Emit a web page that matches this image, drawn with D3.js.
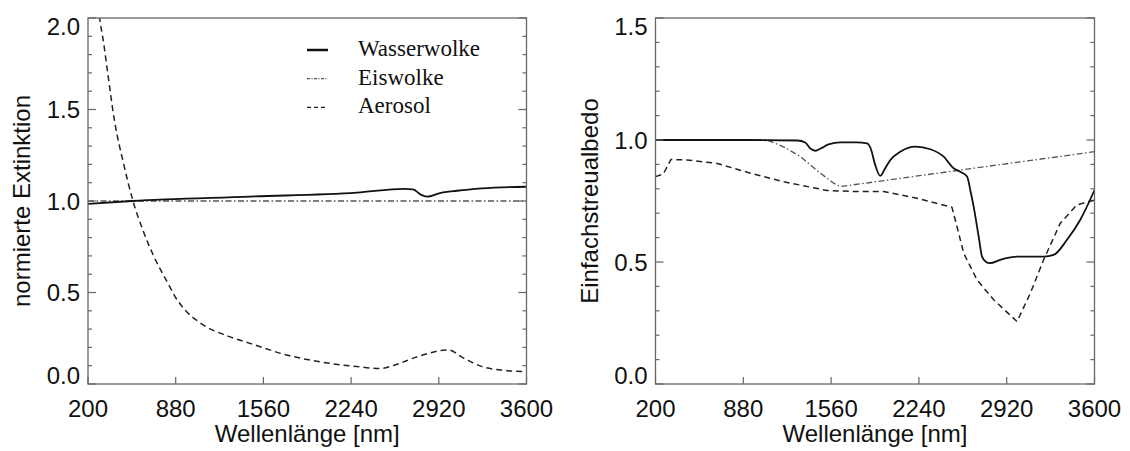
<!DOCTYPE html>
<meta charset="utf-8">
<style>
  body { margin: 0; background: #fff; }
  svg text { font-family: "Liberation Sans", Arial, sans-serif; fill: #111; }
  .legend text { font-family: "Liberation Serif", "Times New Roman", serif; }
</style>
<body>
  <div id="box1"></div>
</body>
<script src="https://cdn.jsdelivr.net/npm/d3@7"></script>
<script>

var width = 1130, height = 451;

// x ticks shared by both panels
var xTicks = [200, 880, 1560, 2240, 2920, 3600];
var leftYTicks = [0.0, 0.5, 1.0, 1.5, 2.0];
var rightYTicks = [0.0, 0.5, 1.0, 1.5];

var seriesNames = ["Wasserwolke", "Eiswolke", "Aerosol"];

// normierte Extinktion (left)
var extWasser = [[200, 0.984], [543, 1.0], [1456, 1.024], [2286, 1.046], [2650, 1.066],
                 [2720, 1.064], [2780, 1.035], [2830, 1.024], [2923, 1.042], [3061, 1.056],
                 [3255, 1.069], [3600, 1.078]];
var extEis = [[200, 1.0], [3600, 1.0]];
var extAerosol = [[270, 2.12], [290, 2.0], [322, 1.86], [349, 1.72], [405, 1.44], [474, 1.21],
                  [549, 1.0], [626, 0.84], [709, 0.70], [820, 0.55], [875, 0.478], [958, 0.40],
                  [1069, 0.335], [1124, 0.31], [1235, 0.275], [1290, 0.26], [1456, 0.222],
                  [1733, 0.16], [2010, 0.12], [2286, 0.095], [2466, 0.084], [2563, 0.10],
                  [2757, 0.15], [2992, 0.186], [3116, 0.14], [3255, 0.095], [3448, 0.073],
                  [3600, 0.067]];

// Einfachstreualbedo (right)
var albWasser = [[200, 1.0], [900, 1.0], [1300, 0.998], [1360, 0.99], [1400, 0.965], [1438, 0.956],
                 [1480, 0.965], [1540, 0.982], [1632, 0.99], [1760, 0.99], [1838, 0.986],
                 [1870, 0.96], [1900, 0.9], [1941, 0.853], [1980, 0.885], [2019, 0.918],
                 [2096, 0.952], [2212, 0.973], [2329, 0.962], [2432, 0.932], [2509, 0.884],
                 [2560, 0.87], [2613, 0.85], [2640, 0.79], [2664, 0.727], [2703, 0.604],
                 [2729, 0.522], [2760, 0.5], [2790, 0.495], [2871, 0.509], [3000, 0.522],
                 [3206, 0.522], [3284, 0.529], [3387, 0.591], [3490, 0.673], [3600, 0.795]];
var albEis = [[200, 1.0], [1064, 1.0], [1200, 0.97], [1322, 0.932], [1477, 0.864], [1580, 0.823],
              [1632, 0.809], [2509, 0.873], [3600, 0.952]];
var albAerosol = [[200, 0.85], [260, 0.86], [320, 0.92], [445, 0.918], [677, 0.904], [935, 0.864],
                  [1193, 0.829], [1529, 0.793], [1735, 0.789], [1967, 0.789], [2225, 0.761],
                  [2496, 0.724], [2522, 0.672], [2587, 0.536], [2690, 0.427], [2819, 0.345],
                  [3000, 0.256], [3103, 0.372], [3206, 0.509], [3335, 0.659], [3464, 0.734],
                  [3600, 0.754]];

var styles = {
  solid:   {stroke: "#111", width: 1.8, dash: null},
  dashdot: {stroke: "#555", width: 1.3, dash: "6,2.5,1.5,2.5"},
  dashed:  {stroke: "#222", width: 1.5, dash: "6,4"}
};

var svg = d3.select('#box1').append("svg")
    .attr("width", width)
    .attr("height", height)

function panel(id, left, right, yMax, yTicks, yLabel, lines) {
  var top = 18, bottom = 384;
  var x = d3.scaleLinear().domain([200, 3600]).range([left, right]);
  var y = d3.scaleLinear().domain([0, yMax]).range([bottom, top]);
  var g = svg.append("g");

  g.append("clipPath").attr("id", "clip" + id)
    .append("rect").attr("x", left).attr("y", top)
    .attr("width", right - left).attr("height", bottom - top);

  var line = d3.line().x(d => x(d[0])).y(d => y(d[1]));

  lines.forEach(function(l) {
    var s = styles[l.style];
    g.append("path")
      .datum(l.data)
      .attr("clip-path", "url(#clip" + id + ")")
      .attr("fill", "none")
      .attr("stroke", s.stroke)
      .attr("stroke-width", s.width)
      .attr("stroke-dasharray", s.dash)
      .attr("d", line.curve(l.curve || d3.curveMonotoneX));
  });

  // frame
  g.append("rect")
    .attr("x", left).attr("y", top)
    .attr("width", right - left).attr("height", bottom - top)
    .attr("fill", "none").attr("stroke", "#666").attr("stroke-width", 1.3);

  // y ticks both sides, minor every 0.1
  var minor = d3.range(0, yMax + 0.001, 0.1);
  minor.forEach(function(v) {
    var isMajor = yTicks.some(t => Math.abs(t - v) < 1e-6);
    var len = isMajor ? 8 : 4;
    g.append("line").attr("x1", left).attr("x2", left + len)
      .attr("y1", y(v)).attr("y2", y(v)).attr("stroke", "#666").attr("stroke-width", 1.2);
    g.append("line").attr("x1", right).attr("x2", right - len)
      .attr("y1", y(v)).attr("y2", y(v)).attr("stroke", "#666").attr("stroke-width", 1.2);
  });

  // x ticks bottom
  g.selectAll("xt").data(xTicks).enter().append("line")
    .attr("x1", d => x(d)).attr("x2", d => x(d))
    .attr("y1", bottom).attr("y2", bottom - 7)
    .attr("stroke", "#666").attr("stroke-width", 1.2);

  g.selectAll("xl").data(xTicks).enter().append("text")
    .attr("x", d => x(d)).attr("y", 417)
    .attr("text-anchor", "middle")
    .style("font-size", "24px")
    .text(d => d);

  g.selectAll("yl").data(yTicks).enter().append("text")
    .attr("x", left - 8)
    .attr("y", d => Math.min(bottom - 8.5, Math.max(top + 8.5, y(d))))
    .attr("dy", "0.36em")
    .attr("text-anchor", "end")
    .style("font-size", "24px")
    .text(d => d.toFixed(1));

  g.append("text")
    .attr("x", (left + right) / 2).attr("y", 442)
    .attr("text-anchor", "middle")
    .style("font-size", "24px")
    .text("Wellenlänge [nm]");

  g.append("text")
    .attr("transform", "translate(" + (left - 58) + "," + ((top + bottom) / 2) + ") rotate(-90)")
    .attr("text-anchor", "middle")
    .style("font-size", "24px")
    .text(yLabel);

  return {x: x, y: y};
}

panel("L", 88, 526.5, 2.0, leftYTicks, "normierte Extinktion", [
  {data: extEis, style: "dashdot", curve: d3.curveLinear},
  {data: extAerosol, style: "dashed"},
  {data: extWasser, style: "solid"}
]);

panel("R", 655.5, 1094.5, 1.5, rightYTicks, "Einfachstreualbedo", [
  {data: albEis, style: "dashdot", curve: d3.curveLinear},
  {data: albAerosol, style: "dashed", curve: d3.curveLinear},
  {data: albWasser, style: "solid"}
]);

// legend in left panel
var legendStyles = ["solid", "dashdot", "dashed"];
var legend = svg.append("g").attr("class", "legend");
legend.selectAll("line").data(seriesNames).enter().append("line")
  .attr("x1", 307).attr("x2", 328)
  .attr("y1", (d, i) => 50 + i * 28.7).attr("y2", (d, i) => 50 + i * 28.7)
  .attr("stroke", (d, i) => styles[legendStyles[i]].stroke)
  .attr("stroke-width", (d, i) => i == 0 ? 2.5 : 1.3)
  .attr("stroke-dasharray", (d, i) => i == 1 ? "3,1.5,1,1.5" : (i == 2 ? "4,3" : null));
legend.selectAll("text").data(seriesNames).enter().append("text")
  .attr("x", 358)
  .attr("y", (d, i) => 56 + i * 28.7)
  .style("font-size", "23px")
  .text(d => d);

</script>
